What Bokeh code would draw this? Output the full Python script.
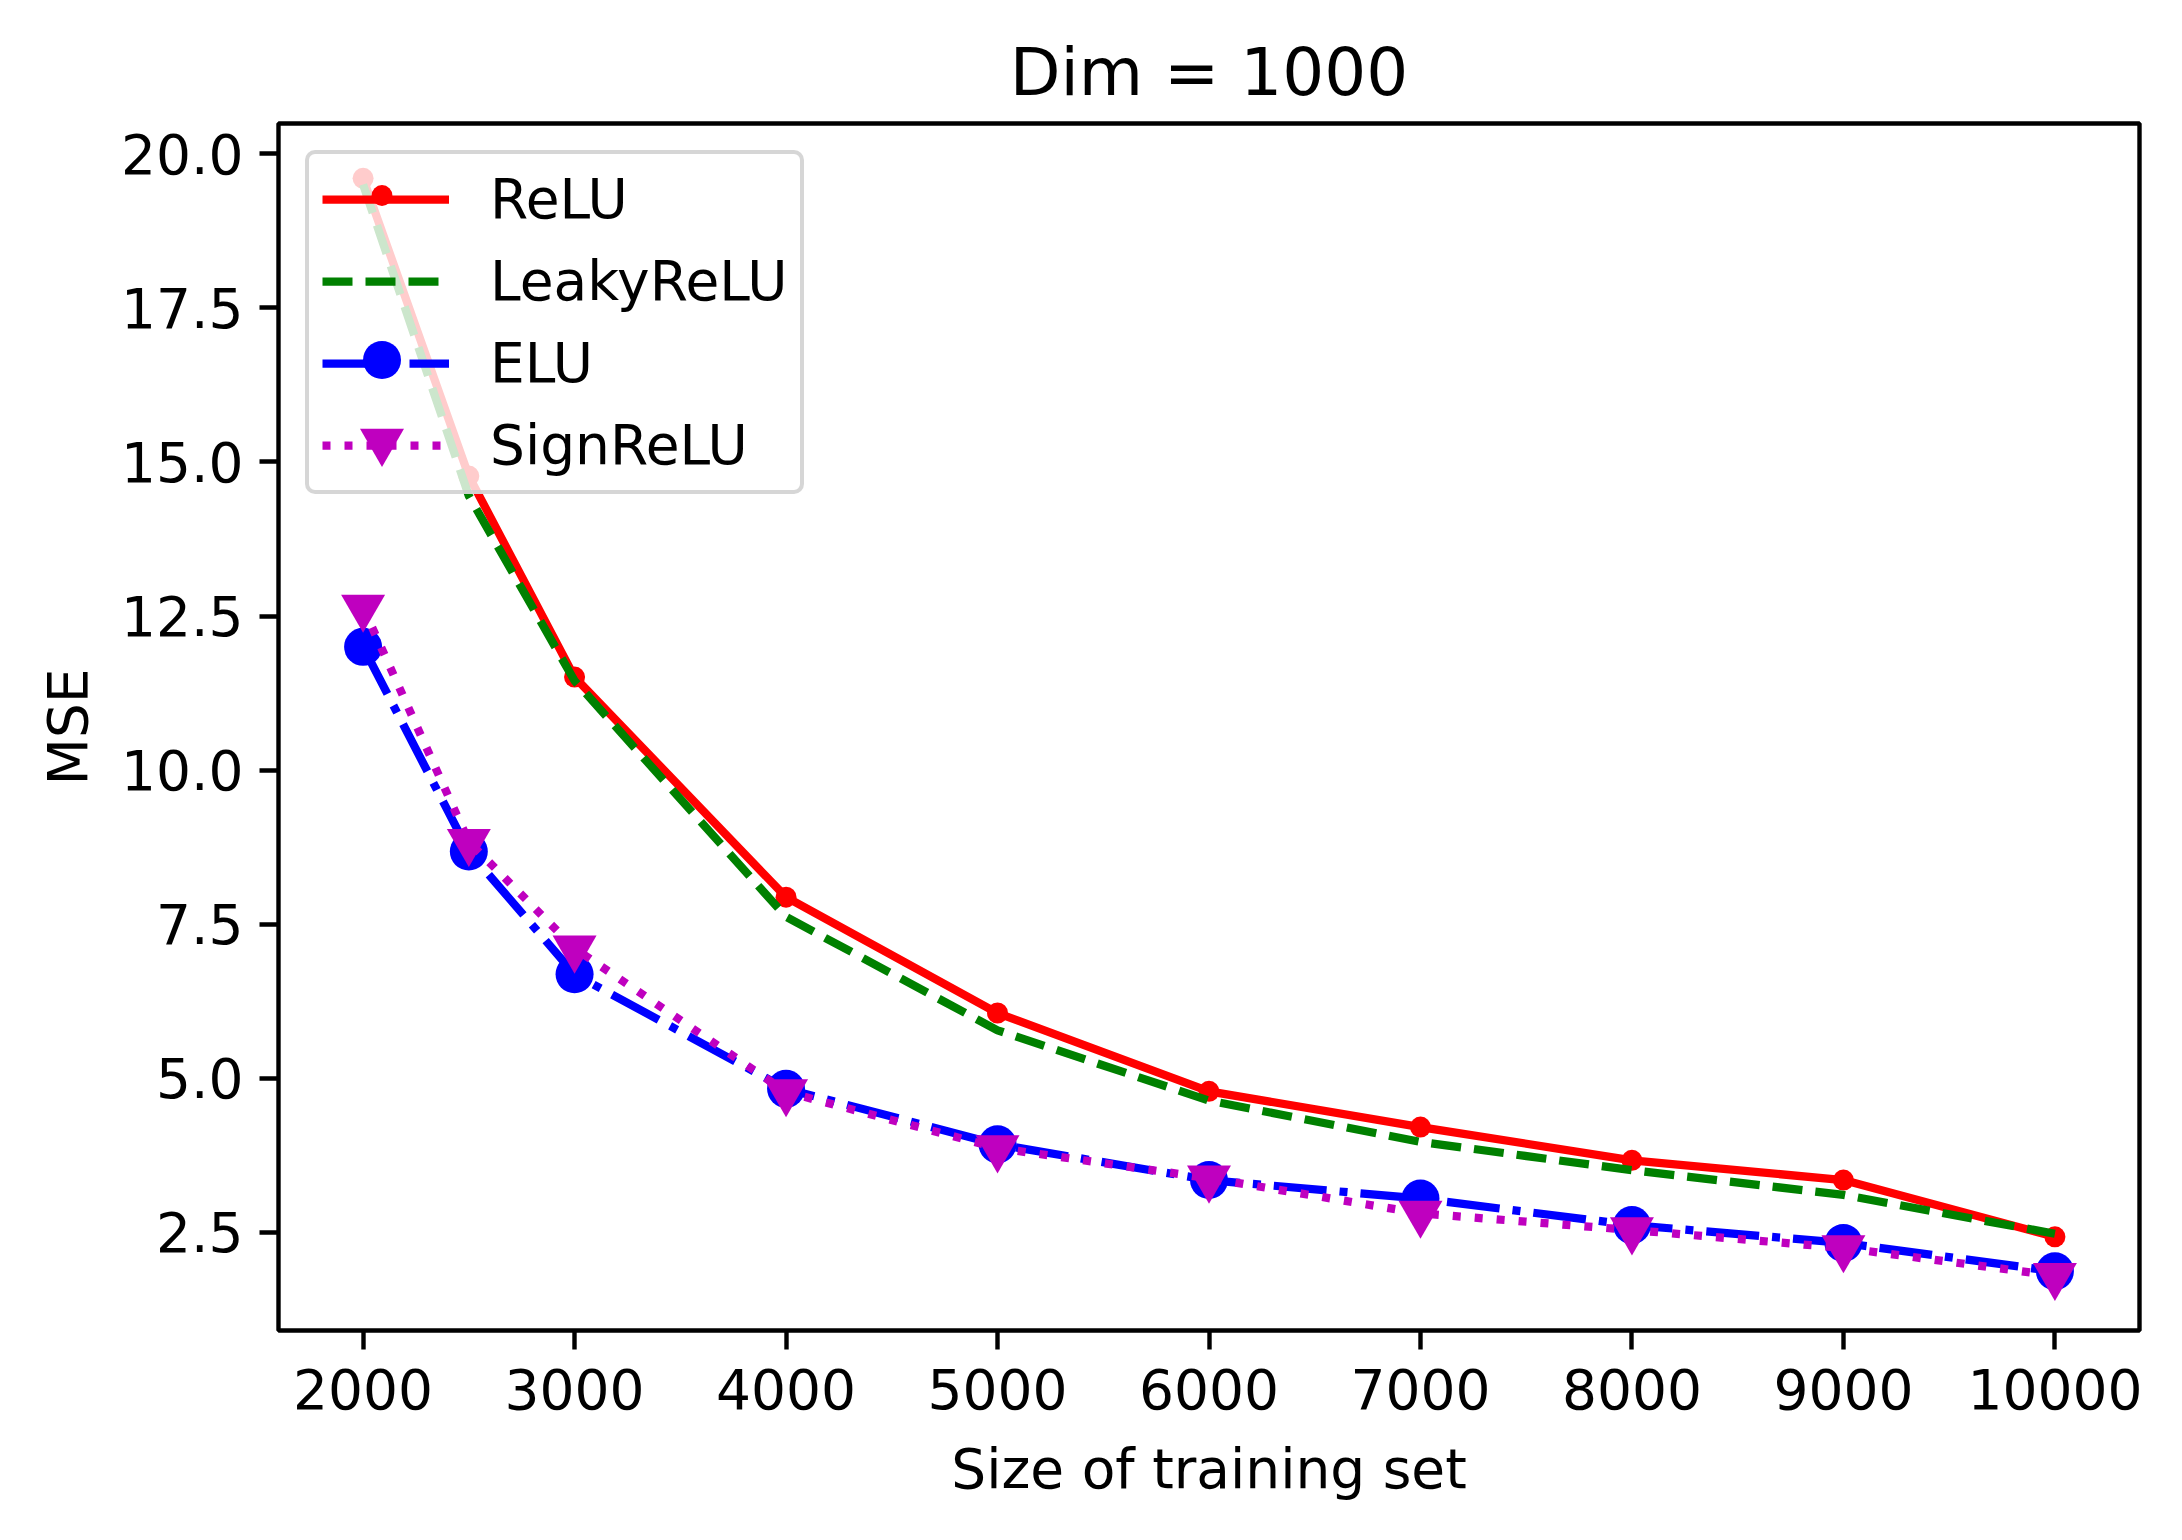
from bokeh.plotting import figure
from bokeh.models import Range1d, FixedTicker, PrintfTickFormatter, Legend, LegendItem
from bokeh.embed import file_html
from bokeh.resources import INLINE

# ---- data ----
train_sizes = [2000, 2500, 3000, 4000, 5000, 6000, 7000, 8000, 9000, 10000]
relu = [19.60, 14.77, 11.51, 7.94, 6.06, 4.79, 4.21, 3.67, 3.35, 2.43]
leaky_relu = [19.50, 14.45, 11.45, 7.62, 5.78, 4.64, 3.97, 3.51, 3.11, 2.48]
elu = [12.00, 8.68, 6.69, 4.83, 3.93, 3.35, 3.05, 2.62, 2.33, 1.87]
sign_relu = [12.64, 8.84, 7.11, 4.78, 3.87, 3.38, 2.81, 2.54, 2.25, 1.80]

series_names = ["ReLU", "LeakyReLU", "ELU", "SignReLU"]

x_ticks = [2000, 3000, 4000, 5000, 6000, 7000, 8000, 9000, 10000]
y_ticks = [2.5, 5.0, 7.5, 10.0, 12.5, 15.0, 17.5, 20.0]

title_text = "Dim = 1000"
x_label = "Size of training set"
y_label = "MSE"

FONT = "DejaVu Sans"
TICK_PX = "55px"

# axis limits with 5% margins, like matplotlib autoscaling
all_y = relu + leaky_relu + elu + sign_relu
ymin, ymax = min(all_y), max(all_y)
ypad = 0.05 * (ymax - ymin)
xmin, xmax = min(train_sizes), max(train_sizes)
xpad = 0.05 * (xmax - xmin)

W, H = 2166, 1524
BL, BR, BT, BB = 278, 27, 123, 194
FRAME_H = H - BT - BB

p = figure(
    width=W, height=H,
    output_backend="svg", toolbar_location=None,
    x_range=Range1d(xmin - xpad, xmax + xpad),
    y_range=Range1d(ymin - ypad, ymax + ypad),
    min_border_left=BL, min_border_right=BR,
    min_border_top=BT, min_border_bottom=BB,
    title=title_text,
)
p.background_fill_color = "white"
p.border_fill_color = "white"
p.grid.visible = False
p.outline_line_color = "black"
p.outline_line_width = 4.4

p.title.align = "center"
p.title.text_font = FONT
p.title.text_font_size = "66px"
p.title.text_font_style = "normal"
p.title.text_color = "black"
p.title.standoff = 25

for ax in (p.xaxis[0], p.yaxis[0]):
    ax.axis_line_color = None
    ax.major_tick_out = 19
    ax.major_tick_in = 0
    ax.major_tick_line_width = 4.4
    ax.major_tick_line_color = "black"
    ax.minor_tick_line_color = None
    ax.major_label_text_font = FONT
    ax.major_label_text_font_size = TICK_PX
    ax.major_label_text_color = "black"
    ax.axis_label_text_font = FONT
    ax.axis_label_text_font_size = TICK_PX
    ax.axis_label_text_font_style = "normal"
    ax.axis_label_text_color = "black"

p.xaxis.ticker = FixedTicker(ticks=x_ticks)
p.xaxis.major_label_overrides = {t: str(t) for t in x_ticks}
p.xaxis.axis_label = x_label
p.xaxis.major_label_standoff = 19
p.xaxis.axis_label_standoff = 25

p.yaxis.ticker = FixedTicker(ticks=y_ticks)
p.yaxis.formatter = PrintfTickFormatter(format="%.1f")
p.yaxis.axis_label = y_label
p.yaxis.major_label_standoff = 16
p.yaxis.axis_label_standoff = 18

LW = 8.25

# ReLU: red solid with small dots
r_line = p.line(train_sizes, relu, line_color="#ff0000", line_width=LW)
r_dot = p.scatter(train_sizes, relu, marker="circle", size=21, fill_color="#ff0000",
                  line_color="#ff0000", line_width=0)

# LeakyReLU: green dashed
g_line = p.line(train_sizes, leaky_relu, line_color="#008000", line_width=LW,
                line_dash="30 13")

# ELU: blue dash-dot with circles
b_line = p.line(train_sizes, elu, line_color="#0000ff", line_width=LW,
                line_dash="53 13 8 13")
b_dot = p.scatter(train_sizes, elu, marker="circle", size=38, fill_color="#0000ff",
                  line_color="#0000ff", line_width=0)

# SignReLU: magenta dotted with down triangles
m_line = p.line(train_sizes, sign_relu, line_color="#bf00bf", line_width=LW,
                line_dash="8 14")
m_tri = p.scatter(train_sizes, sign_relu, marker="inverted_triangle", size=44,
                  fill_color="#bf00bf", line_color="#bf00bf", line_width=0)

# main legend: frame, labels and line samples
L_MARGIN, L_PAD, ROW_H, L_SPACING, GLYPH_W = 27, 13, 64, 18, 127
main_legend = Legend(
    items=[
        LegendItem(label=series_names[0], renderers=[r_line]),
        LegendItem(label=series_names[1], renderers=[g_line]),
        LegendItem(label=series_names[2], renderers=[b_line]),
        LegendItem(label=series_names[3], renderers=[m_line]),
    ],
    location="top_left",
    margin=L_MARGIN, padding=L_PAD, spacing=L_SPACING,
    glyph_width=GLYPH_W, glyph_height=ROW_H, label_height=ROW_H,
    label_standoff=41,
    label_text_font=FONT, label_text_font_size=TICK_PX,
    label_text_color="black", label_text_baseline="middle",
    background_fill_color="white", background_fill_alpha=0.8,
    border_line_color="#cccccc", border_line_alpha=0.8, border_line_width=4.4,
)
if hasattr(main_legend, "border_radius"):
    main_legend.border_radius = 10
p.add_layout(main_legend)

# marker samples at their own sizes, laid over the legend rows
def marker_legend(label, renderer, row, glyph_h):
    center_from_top = L_MARGIN + L_PAD + ROW_H / 2 + row * (ROW_H + L_SPACING)
    vy = FRAME_H - center_from_top - glyph_h / 2
    lg = Legend(
        items=[LegendItem(label=label, renderers=[renderer])],
        location=(L_MARGIN + L_PAD, vy),
        margin=0, padding=0, spacing=0,
        glyph_width=GLYPH_W, glyph_height=glyph_h, label_height=glyph_h,
        label_standoff=0,
        label_text_font=FONT, label_text_font_size="8px", label_text_alpha=0.0,
        background_fill_alpha=0.0, border_line_color=None,
    )
    p.add_layout(lg)

marker_legend(series_names[0], r_dot, 0, 52)
marker_legend(series_names[2], b_dot, 2, 95)
marker_legend(series_names[3], m_tri, 3, 110)

open("out.html", "w").write(file_html(p, INLINE))
